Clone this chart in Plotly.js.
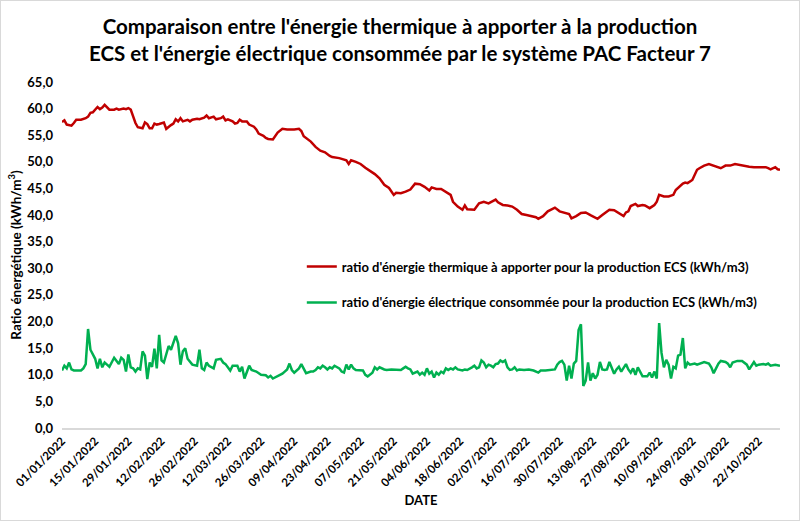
<!DOCTYPE html>
<html>
<head>
<meta charset="utf-8">
<script src="https://cdn.plot.ly/plotly-3.0.1.min.js"></script>
<style>
html,body{margin:0;padding:0;background:#fff;}
#chart{width:800px;height:521px;box-sizing:border-box;border:1px solid #d9d9d9;}
</style>
</head>
<body>
<div id="chart"></div>
<script>
// Jour de l'année (0 = 01/01/2022)
const jourThermique = [
  0,1,2,4,5,6,8,10,11,12,
  13,15,16,17,18,20,22,23,24,26,
  27,28,29,30,31,32,34,35,36,37,
  38,39,40,41,43,44,45,46,47,48,
  49,50,51,53,54,55,57,58,60,61,
  62,64,65,67,68,69,70,72,73,74,
  75,76,78,79,81,82,83,85,86,87,
  89,90,91,93,95,98,100,101,102,105,
  107,109,111,113,114,117,119,120,121,122,
  124,126,128,130,132,134,136,138,140,141,
  143,145,147,149,151,153,155,156,158,160,
  162,164,165,167,169,170,171,174,176,178,
  180,183,184,186,188,190,192,194,196,197,
  200,201,203,205,207,208,210,212,214,215,
  217,219,221,223,225,226,228,230,231,233,
  235,237,238,239,240,242,243,245,246,248,
  250,251,252,254,256,258,259,260,262,263,
  264,266,268,269,271,273,276,278,280,282,
  284,286,288,290,292,295,297,298,299,301,
  302,303
];
const thermique = [
  57.5,57.8,57.0,56.8,57.3,57.9,57.9,58.2,58.5,59.2,
  59.3,60.3,59.9,60.2,60.7,59.8,59.8,60.0,59.8,60.0,
  59.9,60.1,59.8,58.5,57.3,56.5,56.3,57.4,57.1,56.3,
  56.3,57.2,57.0,57.1,57.4,56.2,56.6,56.9,57.2,58.0,
  57.6,58.2,57.6,57.9,57.6,57.9,58.1,58.0,58.3,58.7,
  58.2,58.5,58.0,58.2,58.5,57.8,58.0,57.6,57.2,57.3,
  57.9,57.6,57.6,57.0,56.6,56.1,55.3,54.9,54.5,54.3,
  54.2,54.8,55.5,56.2,56.1,56.1,56.2,55.8,54.8,53.8,
  52.8,52.1,51.8,51.1,50.9,50.7,50.4,50.3,49.6,50.3,
  50.0,49.6,48.9,48.3,47.7,46.9,45.7,45.1,43.8,44.2,
  44.1,44.4,44.8,45.9,45.8,45.3,44.6,45.2,44.9,44.9,
  44.4,43.8,42.5,41.6,41.0,41.8,41.1,41.0,42.2,42.5,
  42.2,42.9,42.4,41.9,41.8,41.6,41.0,40.2,40.0,39.9,
  39.6,39.3,39.8,40.7,41.1,41.4,40.7,40.5,40.2,39.4,
  39.8,40.4,40.5,40.0,39.6,39.3,40.0,40.7,41.0,40.9,
  40.4,39.8,40.5,40.7,41.7,42.1,41.7,41.9,41.8,41.3,
  41.9,42.5,43.8,43.5,43.5,43.8,44.7,45.1,45.9,46.1,
  46.0,46.6,48.5,48.8,49.3,49.6,49.1,48.8,49.3,49.3,
  49.6,49.4,49.3,49.1,49.0,49.0,49.0,48.8,48.6,49.0,
  48.6,48.5
];
const jourElectrique = [
  0,1,2,3,4,5,8,9,10,11,
  12,14,15,16,17,18,19,20,22,23,
  24,25,26,27,28,29,30,31,32,33,
  34,35,36,37,38,39,40,41,42,43,
  45,46,47,48,49,50,51,52,53,55,
  57,58,59,60,61,62,64,65,67,68,
  69,71,72,74,75,76,77,79,80,82,
  84,86,87,88,89,91,93,94,95,96,
  97,98,100,101,102,103,105,106,107,108,
  109,110,111,112,113,114,115,117,118,119,
  120,121,122,123,124,126,127,128,129,131,
  132,133,134,136,137,139,141,143,144,145,
  146,147,148,150,151,152,153,154,155,156,
  157,158,159,160,161,162,163,164,165,166,
  167,169,170,171,173,174,175,176,177,178,
  179,180,181,182,183,184,185,186,187,188,
  189,190,191,192,193,195,197,199,201,202,
  204,207,208,209,210,211,212,213,214,215,
  216,217,218,219,220,221,222,223,224,225,
  226,227,228,229,230,231,233,234,235,236,
  238,239,240,241,242,243,245,247,248,249,
  250,251,252,253,254,255,256,257,258,259,
  260,261,262,263,264,265,267,268,270,271,
  273,274,275,277,278,280,281,282,283,285,
  287,289,290,292,293,294,296,297,298,299,
  301,303
];
const electrique = [
  10.8,11.7,11.2,12.3,11.0,10.8,10.8,11.2,12.0,18.6,
  14.7,13.0,11.2,13.0,11.4,12.3,11.9,11.5,13.2,12.7,
  12.0,13.2,12.8,10.6,13.8,11.4,11.2,10.6,11.2,11.0,
  14.4,13.6,9.2,12.3,11.5,14.9,11.2,17.5,12.7,12.3,
  15.4,14.7,16.0,17.3,15.9,11.9,14.4,15.0,13.0,11.9,
  11.7,14.7,11.2,10.9,12.3,11.7,11.2,12.8,13.0,12.3,
  12.0,10.8,11.7,11.7,10.6,11.5,9.3,11.7,10.9,10.6,
  10.0,9.9,9.5,9.8,9.3,9.7,10.2,10.6,11.0,12.1,
  10.9,10.4,11.2,12.0,11.0,10.3,10.6,10.6,10.9,11.4,
  11.2,11.7,11.4,11.0,11.4,11.2,11.7,11.2,10.6,10.4,
  11.9,11.0,11.9,11.2,10.9,10.8,10.8,10.0,9.7,10.4,
  11.4,11.0,11.4,11.0,10.9,11.0,11.0,10.9,11.2,11.5,
  11.2,11.0,10.2,10.6,10.0,10.4,10.0,11.2,10.2,10.6,
  9.5,10.4,10.0,10.6,10.3,11.2,10.9,11.2,11.0,11.4,
  11.0,10.8,11.0,10.9,11.4,11.7,11.2,11.4,12.7,12.3,
  11.4,11.9,11.7,11.4,12.0,12.1,12.7,12.4,12.7,11.4,
  10.9,11.0,11.4,10.8,11.0,10.9,11.0,10.8,10.4,10.8,
  10.8,11.0,11.0,11.9,12.4,12.6,11.9,8.9,11.7,9.3,
  12.1,12.6,18.4,19.5,7.9,8.9,12.3,8.9,10.3,9.3,
  10.0,12.4,11.0,10.9,11.0,12.4,10.2,11.0,11.5,10.6,
  12.0,11.0,10.4,11.2,10.0,11.4,9.7,9.7,10.4,9.5,
  10.6,9.3,19.7,14.1,11.4,12.8,11.9,9.3,11.5,11.2,
  13.6,13.8,16.9,11.2,12.3,11.9,12.1,11.9,12.3,12.4,
  12.1,11.4,10.3,12.1,12.6,12.4,12.1,11.4,12.3,12.6,
  12.6,11.9,11.0,12.4,11.7,11.9,12.0,11.9,12.1,11.7,
  11.9,11.7
];
const nomThermique = "ratio d'énergie thermique à apporter pour la production ECS (kWh/m3)";
const nomElectrique = "ratio d'énergie électrique consommée pour la production ECS (kWh/m3)";
const titre = "Comparaison entre l'énergie thermique à apporter à la production<br>ECS et l'énergie électrique consommée par le système PAC Facteur 7";

const debut = Date.UTC(2022, 0, 1);
function dateDe(j) { return new Date(debut + j * 86400000).toISOString().slice(0, 10); }

const FONT = 'Lato, "Open Sans", sans-serif';

const traces = [
  {x: jourThermique.map(dateDe), y: thermique, type: 'scatter', mode: 'lines', name: nomThermique,
   legendgroup: 'a', line: {color: '#C00000', width: 2.5}},
  {x: jourElectrique.map(dateDe), y: electrique, type: 'scatter', mode: 'lines', name: nomElectrique,
   legendgroup: 'b', line: {color: '#00B050', width: 2.5}}
];

const layout = {
  width: 798, height: 519,
  margin: {l: 61, r: 19, t: 81, b: 92},
  paper_bgcolor: '#fff', plot_bgcolor: '#fff',
  font: {family: FONT, color: '#000', weight: 'bold'},
  separators: ', ',
  title: {text: titre, font: {family: FONT, size: 20.5, color: '#000', weight: 'bold'},
          x: 0.5, xanchor: 'center', xref: 'container', yref: 'container', y: 0.936, yanchor: 'middle'},
  xaxis: {
    type: 'date', range: [dateDe(0), dateDe(303)],
    tick0: dateDe(0), dtick: 14 * 86400000, tickformat: '%d/%m/%Y',
    tickangle: -45, tickfont: {size: 11.5, family: FONT, weight: 'bold'},
    showgrid: false, zeroline: false, showline: true, linecolor: '#d9d9d9', linewidth: 2,
    ticks: '', automargin: false,
    title: {text: 'DATE', font: {size: 13, family: FONT, weight: 'bold'}, standoff: 8}
  },
  yaxis: {
    range: [0, 65], dtick: 5, tick0: 0, tickformat: '.1f',
    tickfont: {size: 13, family: FONT, weight: 'bold'}, ticklabelstandoff: 8,
    showgrid: false, zeroline: false, showline: false, ticks: '', automargin: false,
    title: {text: 'Ratio énergétique (kWh/m<sup>3</sup>)', font: {size: 13.5, family: FONT, weight: 'bold'}, standoff: 2}
  },
  showlegend: true,
  legend: {x: 0.334, xanchor: 'left', y: 0.51, yanchor: 'top', bgcolor: 'rgba(0,0,0,0)',
           font: {size: 13, family: FONT, weight: 'bold'}, tracegroupgap: 16, itemwidth: 30}
};

Plotly.newPlot('chart', traces, layout, {displayModeBar: false, staticPlot: true});
</script>
</body>
</html>
